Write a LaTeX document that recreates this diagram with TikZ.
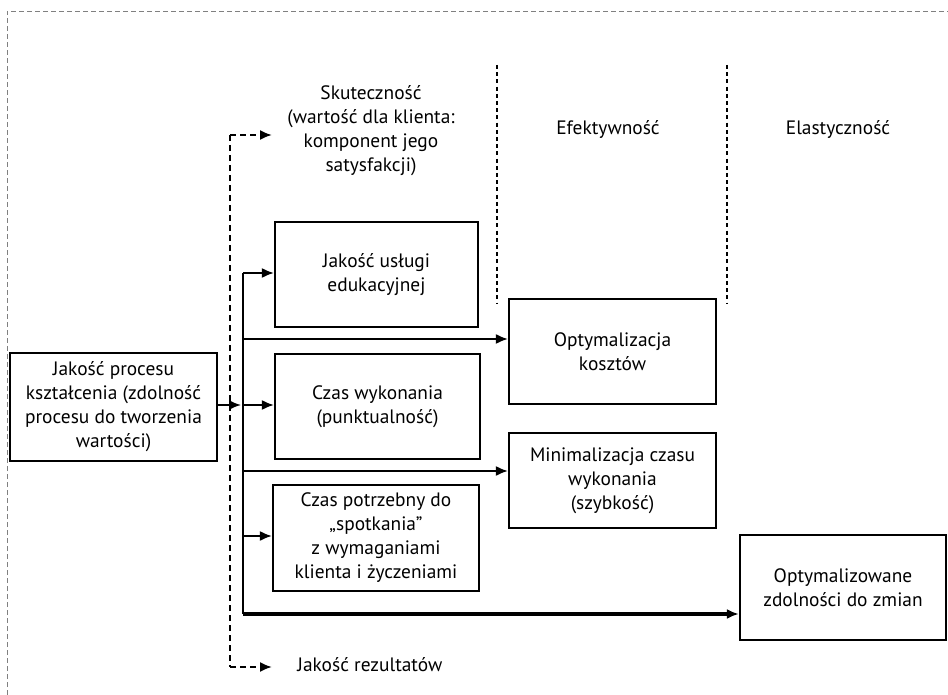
\documentclass[tikz,border=0pt]{standalone}
\usepackage{fontspec}
\setmainfont{PT Sans}
\usetikzlibrary{arrows.meta}
\begin{document}
\begin{tikzpicture}[x=0.5pt,y=-0.5pt,
  txt/.style={font=\fontsize{9.7}{12}\selectfont},
  box/.style={txt,draw,line width=1.1pt,align=center,inner sep=0pt},
  lbl/.style={txt,align=center,inner sep=0pt},
  arr/.style={-{Latex[length=6pt,width=5pt]},line width=0.9pt},
  dasharr/.style={-{Latex[length=6pt,width=5pt]},line width=1pt,dash pattern=on 3pt off 2pt},
  frame/.style={gray,line width=0.4pt,dash pattern=on 2.5pt off 1.5pt},
  divider/.style={line width=1.2pt,dash pattern=on 2pt off 1.6pt}]
\useasboundingbox (0,0) rectangle (948,695);

% outer frame (top and left sides)
\draw[frame] (7,695) -- (7,11) -- (948,11);

% column headers
\node[lbl] (hsk) at (371,131) {Skuteczność\\(wartość dla klienta:\\komponent jego\\satysfakcji)};
\node[lbl] (hef) at (608,130) {Efektywność};
\node[lbl] (hel) at (838,130) {Elastyczność};

% column dividers
\coordinate (d1a) at (497,65); \coordinate (d1b) at (497,303);
\coordinate (d2a) at (727,65); \coordinate (d2b) at (727,303);
\draw[divider] (d1a) -- (d1b);
\draw[divider] (d2a) -- (d2b);

% boxes
\node[box,minimum width=103.5pt,minimum height=54pt] (proc) at (113.5,407)
  {Jakość procesu\\kształcenia (zdolność\\procesu do tworzenia\\wartości)};
\node[box,minimum width=101.5pt,minimum height=52.5pt] (usl) at (376.5,274.5)
  {Jakość usługi\\edukacyjnej};
\node[box,minimum width=102.5pt,minimum height=52.5pt] (czas) at (377.5,406.5)
  {Czas wykonania\\(punktualność)};
\node[box,minimum width=103pt,minimum height=53pt] (potrz) at (376,538)
  {Czas potrzebny do\\„spotkania”\\z wymaganiami\\klienta i życzeniami};
\node[box,minimum width=103.5pt,minimum height=52.5pt] (koszt) at (612.5,351.5)
  {Optymalizacja\\kosztów};
\node[box,minimum width=103.5pt,minimum height=47.5pt] (minim) at (612.5,480.5)
  {Minimalizacja czasu\\wykonania\\(szybkość)};
\node[box,minimum width=103pt,minimum height=52.5pt] (zmian) at (843,587.5)
  {Optymalizowane\\zdolności do zmian};
\node[lbl,anchor=west] (rez) at (297,665) {Jakość rezultatów};

% dashed outcome branch
\coordinate (dtop) at (230,135);
\coordinate (dbot) at (230,667);
\coordinate (dtopend) at (272,135);
\coordinate (dbotend) at (272,667);
\draw[dasharr] (dtop) -- (dtopend);
\draw[dasharr] (dbot) -- (dbotend);
\draw[line width=1pt,dash pattern=on 3pt off 2pt] (dtop) -- (dbot);

% solid trunk
\coordinate (t0) at (243,273);
\coordinate (t1) at (243,339);
\coordinate (t2) at (243,405);
\coordinate (t3) at (243,471);
\coordinate (t4) at (243,536);
\coordinate (t5) at (243,614);
\coordinate (pin) at (241,405);
\draw[line width=1.1pt] (t0) -- (t5);
\draw[arr] (proc.east |- pin) -- (pin);
\draw[arr] (t0) -- (t0 -| usl.west);
\draw[arr] (t1) -- (t1 -| koszt.west);
\draw[arr] (t2) -- (t2 -| czas.west);
\draw[arr] (t3) -- (t3 -| minim.west);
\draw[arr] (t4) -- (t4 -| potrz.west);
\draw[arr,line width=1.7pt] (t5) -- (t5 -| zmian.west);
\end{tikzpicture}
\end{document}
